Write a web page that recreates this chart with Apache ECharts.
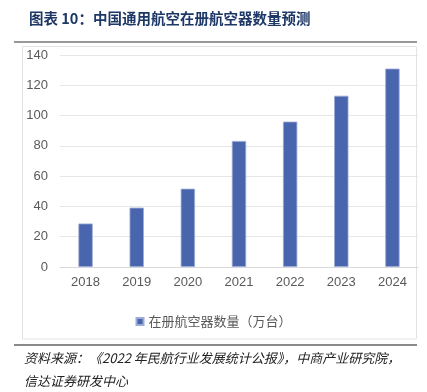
<!DOCTYPE html>
<html><head><meta charset="utf-8">
<script src="https://cdn.jsdelivr.net/npm/echarts@6/dist/echarts.min.js"></script>
<style>html,body{margin:0;padding:0;background:#fff}#c{width:427px;height:392px}</style>
</head><body><div id="c"></div>
<script>
const titleText = '图表 10：中国通用航空在册航空器数量预测';
const sourceLine1 = '资料来源：《2022 年民航行业发展统计公报》，中商产业研究院，';
const sourceLine2 = '信达证券研发中心';
const seriesName = '在册航空器数量（万台）';
const years = ['2018','2019','2020','2021','2022','2023','2024'];
const counts = [28.7, 39.2, 51.7, 83.2, 96.0, 113.1, 131.0];

const chart = echarts.init(document.getElementById('c'), null, {renderer:'canvas'});
chart.setOption({
  animation:false,
  backgroundColor:'#fff',
  title:{text:titleText,left:24,top:6,textStyle:{fontFamily:'Noto Sans CJK SC',fontSize:14.5,fontWeight:'bold',color:'#1d3766'}},
  graphic:[
    {type:'line',shape:{x1:14,y1:42,x2:417,y2:42},style:{stroke:'#333',lineWidth:1.2}},
    {type:'rect',shape:{x:22.5,y:46.5,width:394,height:292.5},style:{fill:'none',stroke:'#e3e3e3',lineWidth:1}},
    {type:'line',shape:{x1:14,y1:345,x2:417,y2:345},style:{stroke:'#8a8a8a',lineWidth:2}},
    {type:'text',left:24,top:352,style:{text:sourceLine1,font:'italic 13px "Noto Sans CJK SC"',fill:'#222'}},
    {type:'text',left:24,top:375,style:{text:sourceLine2,font:'italic 13px "Noto Sans CJK SC"',fill:'#222'}}
  ],
  legend:{data:[seriesName],left:'center',top:310,itemWidth:7,itemHeight:7,itemGap:4,icon:'rect',
    textStyle:{fontFamily:'Noto Sans CJK SC',fontSize:13,color:'#595959'}},
  grid:{left:60,right:9,top:55,bottom:125,containLabel:false},
  xAxis:{type:'category',data:years,
    axisLine:{lineStyle:{color:'#d9d9d9',width:1}},axisTick:{show:false},
    axisLabel:{color:'#595959',fontSize:13,fontFamily:'Liberation Sans',margin:9}},
  yAxis:{type:'value',min:0,max:140,interval:20,
    axisLine:{show:false},axisTick:{show:false},
    splitLine:{lineStyle:{color:'#e6e6e6',width:1}},
    axisLabel:{color:'#595959',fontSize:13,fontFamily:'Liberation Sans',margin:12}},
  series:[{name:seriesName,type:'bar',data:counts,barWidth:'28%',
    itemStyle:{color:'#4865ad',borderColor:'#9aabd6',borderWidth:0.8}}]
});
</script></body></html>
